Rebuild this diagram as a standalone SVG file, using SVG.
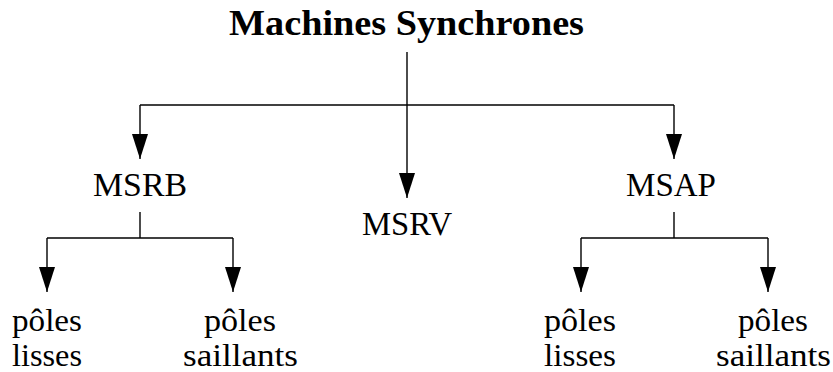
<svg xmlns="http://www.w3.org/2000/svg" width="833" height="372" viewBox="0 0 833 372">
<style>
text{font-family:"Liberation Serif","Times New Roman",serif;font-size:34px;fill:#000;text-anchor:middle}
.title{font-weight:bold;font-size:35px}
.leaf{font-size:31px}
.c{fill:none;stroke:#000;stroke-width:1.4}
.a{marker-end:url(#ah)}
</style>
<defs>
<marker id="ah" markerUnits="userSpaceOnUse" markerWidth="25" markerHeight="16" refX="25" refY="8" orient="auto">
<path d="M0,0 L25,8 L0,16 z" fill="#000"/>
</marker>
</defs>
<rect width="833" height="372" fill="#fff"/>
<g id="connectors">
<line class="c a" x1="407" y1="52" x2="407" y2="198"/>
<line class="c" x1="140" y1="105" x2="674" y2="105"/>
<line class="c a" x1="140" y1="105" x2="140" y2="159"/>
<line class="c a" x1="674" y1="105" x2="674" y2="159"/>
<polyline class="c" points="140,212 140,238"/>
<line class="c" x1="47" y1="238" x2="233" y2="238"/>
<line class="c a" x1="47" y1="238" x2="47" y2="292"/>
<line class="c a" x1="233" y1="238" x2="233" y2="292"/>
<polyline class="c" points="674,212 674,238"/>
<line class="c" x1="581" y1="238" x2="768" y2="238"/>
<line class="c a" x1="581" y1="238" x2="581" y2="292"/>
<line class="c a" x1="768" y1="238" x2="768" y2="292"/>
</g>
<g id="root"><text class="title" x="406.5" y="35" textLength="355" lengthAdjust="spacingAndGlyphs">Machines Synchrones</text></g>
<g id="msrb"><text x="140" y="196" textLength="94" lengthAdjust="spacingAndGlyphs">MSRB</text></g>
<g id="msrv"><text x="407" y="235" textLength="90" lengthAdjust="spacingAndGlyphs">MSRV</text></g>
<g id="msap"><text x="671" y="196" textLength="90" lengthAdjust="spacingAndGlyphs">MSAP</text></g>
<g id="msrb-lisses"><text class="leaf" x="47" y="331" textLength="70" lengthAdjust="spacingAndGlyphs">pôles</text><text class="leaf" x="47" y="366" textLength="70" lengthAdjust="spacingAndGlyphs">lisses</text></g>
<g id="msrb-saillants"><text class="leaf" x="240" y="331" textLength="72" lengthAdjust="spacingAndGlyphs">pôles</text><text class="leaf" x="240.5" y="366" textLength="115" lengthAdjust="spacingAndGlyphs">saillants</text></g>
<g id="msap-lisses"><text class="leaf" x="580" y="331" textLength="72" lengthAdjust="spacingAndGlyphs">pôles</text><text class="leaf" x="580" y="366" textLength="72" lengthAdjust="spacingAndGlyphs">lisses</text></g>
<g id="msap-saillants"><text class="leaf" x="773" y="331" textLength="70" lengthAdjust="spacingAndGlyphs">pôles</text><text class="leaf" x="773.5" y="366" textLength="115" lengthAdjust="spacingAndGlyphs">saillants</text></g>
</svg>
